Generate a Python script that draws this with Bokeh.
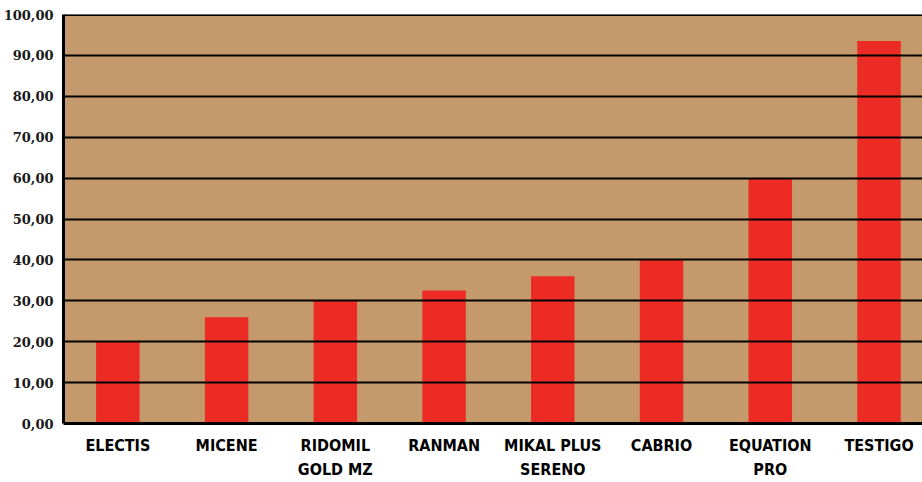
from bokeh.plotting import figure
from bokeh.models import Range1d, FixedTicker, ColumnDataSource, Span
from bokeh.embed import file_html
from bokeh.resources import INLINE

categories = ["ELECTIS", "MICENE", "RIDOMIL\nGOLD MZ", "RANMAN", "MIKAL PLUS\nSERENO",
              "CABRIO", "EQUATION\nPRO", "TESTIGO"]
values = [20.0, 26.0, 30.0, 32.5, 36.0, 40.0, 60.0, 93.5]
y_ticks = [0, 10, 20, 30, 40, 50, 60, 70, 80, 90, 100]
y_tick_labels = ["0,00", "10,00", "20,00", "30,00", "40,00", "50,00",
                 "60,00", "70,00", "80,00", "90,00", "100,00"]

x_pos = [i + 0.5 for i in range(len(categories))]
src = ColumnDataSource(dict(x=x_pos, val=values))

p = figure(width=922, height=482, x_range=Range1d(0, 7.9),
           y_range=Range1d(0, 100), output_backend="svg", toolbar_location=None,
           min_border_left=62, min_border_right=0, min_border_top=14, min_border_bottom=58)
p.background_fill_color = "#C49A6D"
p.border_fill_color = "white"
p.outline_line_color = None

p.vbar(x="x", top="val", width=0.4, source=src, color="#EC2B24", line_color=None)

p.xgrid.visible = False
p.ygrid.grid_line_color = "black"
p.ygrid.grid_line_width = 2
p.ygrid.level = "overlay"
p.ygrid.ticker = FixedTicker(ticks=y_ticks)

top = Span(location=100, dimension="width", line_color="black", line_width=3, level="overlay")
p.add_layout(top)

p.yaxis.ticker = FixedTicker(ticks=y_ticks)
p.yaxis.major_label_overrides = {t: l for t, l in zip(y_ticks, y_tick_labels)}
p.yaxis.major_label_text_font = "DejaVu Serif"
p.yaxis.major_label_text_font_style = "bold"
p.yaxis.major_label_text_font_size = "13px"
p.yaxis.major_label_text_color = "#1a1a1a"
p.yaxis.major_label_standoff = 4
p.yaxis.axis_line_width = 3
p.yaxis.axis_line_color = "black"
p.yaxis.major_tick_line_color = None
p.yaxis.minor_tick_line_color = None

p.xaxis.ticker = FixedTicker(ticks=x_pos)
p.xaxis.major_label_overrides = {x: c for x, c in zip(x_pos, categories)}
p.xaxis.major_label_text_font = "'DejaVu Sans Condensed', 'Liberation Sans Narrow', Roboto"
p.xaxis.major_label_text_font_style = "bold"
p.xaxis.major_label_text_font_size = "16px"
p.xaxis.major_label_text_line_height = 1.3
p.xaxis.major_label_text_color = "black"
p.xaxis.major_label_standoff = 6
p.xaxis.axis_line_width = 3
p.xaxis.axis_line_color = "black"
p.xaxis.major_tick_line_color = None
p.xaxis.minor_tick_line_color = None

open("out.html", "w").write(file_html(p, INLINE))
